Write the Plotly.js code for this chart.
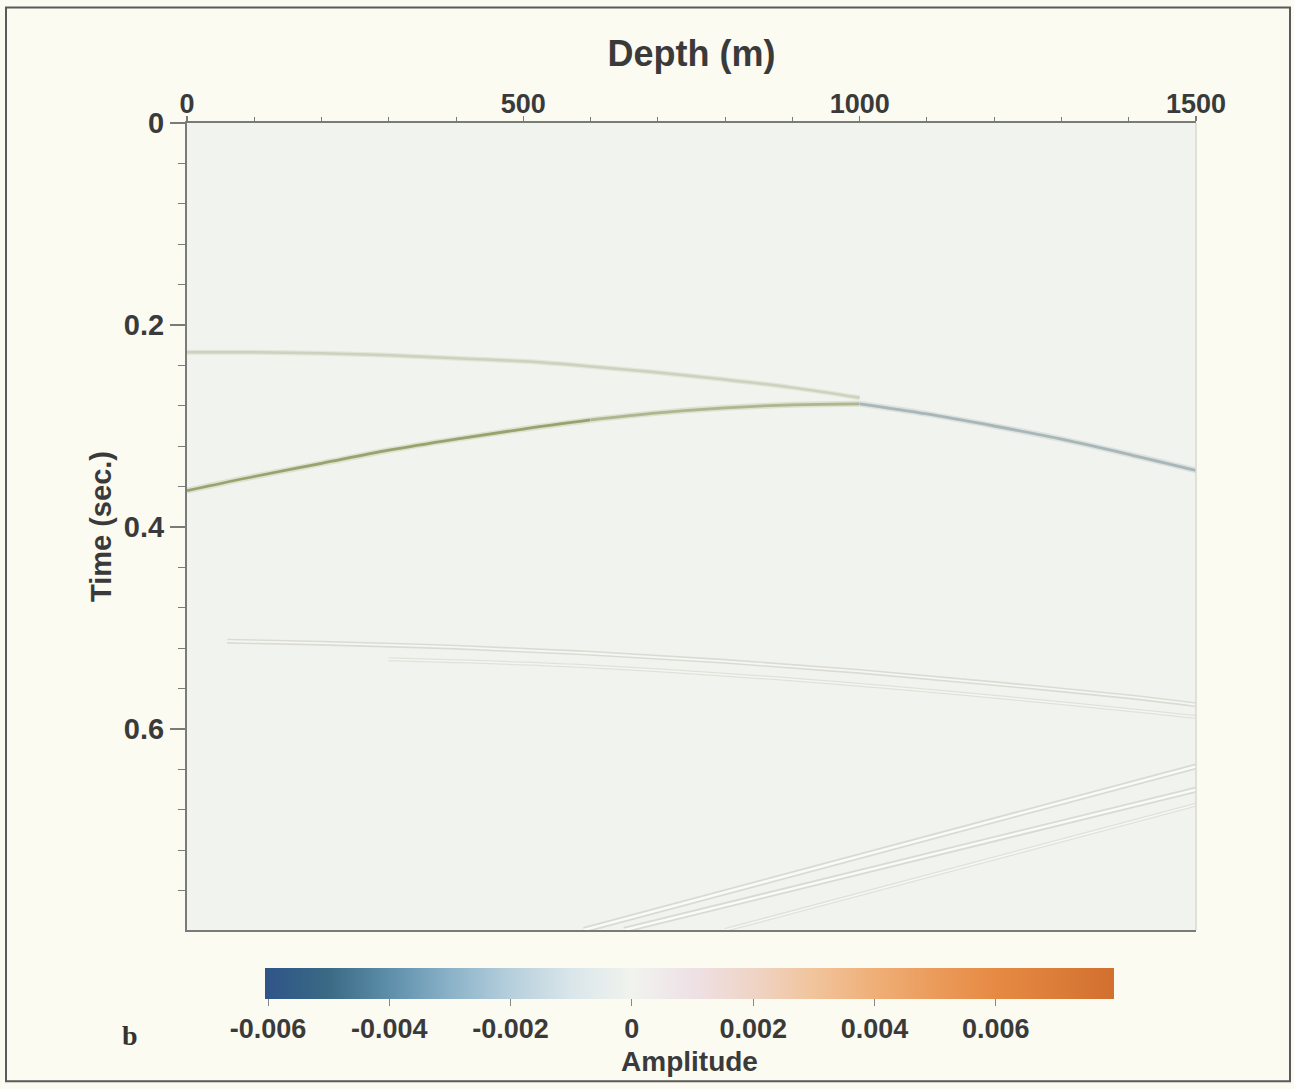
<!DOCTYPE html>
<html>
<head>
<meta charset="utf-8">
<script src="https://cdn.plot.ly/plotly-3.0.1.min.js"></script>
<style>
  html, body { margin: 0; padding: 0; background: #fbfbf1; }
  #chart { width: 1294px; height: 1089px; }
</style>
</head>
<body>
<div id="chart"></div>
<script>
// ---- data ----
const depthTicks = [0, 500, 1000, 1500];
const timeTicks = [0, 0.2, 0.4, 0.6];
const timeTickText = ['0', '0.2', '0.4', '0.6'];
const ampTicks = [-0.006, -0.004, -0.002, 0, 0.002, 0.004, 0.006];
const ampTickText = ['-0.006', '-0.004', '-0.002', '0', '0.002', '0.004', '0.006'];

// background amplitude field (near zero everywhere)
const bgDepth = [0, 1500];
const bgTime = [0, 0.799];
const bgAmp = [[0]];

// reflection events (depth m, time s)
const depthA = [0, 100, 200, 300, 400, 500, 600, 700, 800, 900, 1000];
const timeA  = [0.227, 0.227, 0.228, 0.230, 0.233, 0.236, 0.241, 0.247, 0.254, 0.262, 0.272];

const depthB = [0, 100, 200, 300, 400, 500, 600];
const timeB  = [0.364, 0.350, 0.337, 0.324, 0.313, 0.303, 0.294];
const depthB2 = [600, 700, 800, 900, 1000];
const timeB2  = [0.294, 0.287, 0.282, 0.279, 0.278];

const depthE = [1000, 1100, 1200, 1300, 1400, 1500];
const timeE  = [0.278, 0.288, 0.300, 0.313, 0.328, 0.344];

const depthC1 = [60, 200, 400, 600, 800, 1000, 1200, 1400, 1500];
const timeC1  = [0.513, 0.515, 0.519, 0.525, 0.533, 0.543, 0.555, 0.568, 0.576];
const depthC2 = [300, 600, 900, 1200, 1500];
const timeC2  = [0.531, 0.538, 0.551, 0.568, 0.588];

const depthD1 = [590, 1500];
const timeD1  = [0.799, 0.637];
const depthD2 = [650, 1500];
const timeD2  = [0.799, 0.660];
const depthD3 = [800, 1500];
const timeD3  = [0.799, 0.675];

// ---- styling ----
const FONT = 'Liberation Sans, Arial, sans-serif';
const INK = '#3a3a3a';
const AXIS = '#7a7a78';

const colorscale = [
  [0.000, '#2f5488'],
  [0.075, '#3a6a84'],
  [0.146, '#5d8eaa'],
  [0.218, '#8ab2c8'],
  [0.289, '#b6cfdc'],
  [0.361, '#dae6ea'],
  [0.432, '#f1f3ee'],
  [0.504, '#eee1e6'],
  [0.575, '#efd4c6'],
  [0.646, '#f1c49c'],
  [0.718, '#efaf77'],
  [0.789, '#eb9b5b'],
  [0.861, '#e68a43'],
  [1.000, '#d2702f']
];

function line(x, y, color, width) {
  return {
    type: 'scatter', mode: 'lines', x: x, y: y,
    line: { color: color, width: width, shape: 'spline', smoothing: 1 },
    hoverinfo: 'skip', showlegend: false
  };
}

const traces = [
  {
    type: 'heatmap', x: bgDepth, y: bgTime, z: bgAmp,
    zmin: -0.00605, zmax: 0.00795, colorscale: colorscale,
    hoverinfo: 'skip',
    colorbar: {
      orientation: 'h',
      x: 0.498, xanchor: 'center', xref: 'paper',
      y: -0.047, yanchor: 'top', yref: 'paper',
      len: 0.8414, lenmode: 'fraction',
      thickness: 31, thicknessmode: 'pixels',
      xpad: 0, ypad: 0,
      outlinewidth: 0,
      tickmode: 'array', tickvals: ampTicks, ticktext: ampTickText,
      ticks: 'outside', ticklen: 7, tickcolor: '#888', tickwidth: 1,
      tickfont: { family: FONT, size: 27, color: INK, weight: 'bold' },
      title: { text: 'Amplitude', side: 'bottom',
               font: { family: FONT, size: 28, color: INK, weight: 'bold' } }
    }
  },
  // A event
  line(depthA, timeA, '#e2e5d8', 5),
  line(depthA, timeA, '#ccd2bd', 2.5),
  // C events
  line(depthC1, timeC1, '#dadcd4', 5),
  line(depthC1, timeC1, '#f6f7f3', 1.8),
  line(depthC2, timeC2, '#e0e2da', 4),
  line(depthC2, timeC2, '#f5f6f1', 1.5),
  // D events
  line(depthD1, timeD1, '#d8dbd3', 6),
  line(depthD1, timeD1, '#fafaf7', 2.5),
  line(depthD2, timeD2, '#d8dbd3', 6),
  line(depthD2, timeD2, '#fafaf7', 2.5),
  line(depthD3, timeD3, '#dfe1da', 4),
  line(depthD3, timeD3, '#f7f8f4', 1.5),
  // B event and merged event
  line(depthB, timeB, '#dde1cf', 6),
  line(depthB, timeB, '#97a36f', 2.8),
  line(depthB2, timeB2, '#dde1d0', 6),
  line(depthB2, timeB2, '#adb68f', 2.8),
  line(depthE, timeE, '#dce2e0', 6),
  line(depthE, timeE, '#a9b6b7', 2.8)
];

const layout = {
  width: 1294, height: 1089,
  paper_bgcolor: '#fbfbf1',
  plot_bgcolor: '#f0f2ec',
  margin: { l: 187, r: 98, t: 123, b: 155, pad: 0 },
  font: { family: FONT, color: INK },
  xaxis: {
    side: 'top', range: [0, 1500],
    tickmode: 'array', tickvals: depthTicks,
    ticks: 'outside', ticklen: 5, tickwidth: 1.5, tickcolor: AXIS,
    ticklabelstandoff: -8,
    minor: { dtick: 100, ticks: 'outside', ticklen: 4, tickwidth: 1, tickcolor: AXIS },
    showline: true, linecolor: AXIS, linewidth: 2, mirror: true,
    showgrid: false, zeroline: false,
    tickfont: { family: FONT, size: 27, color: INK, weight: 'bold' },
    title: { text: 'Depth (m)', standoff: 12,
             font: { family: FONT, size: 36, color: INK, weight: 'bold' } }
  },
  yaxis: {
    range: [0.799, 0],
    tickmode: 'array', tickvals: timeTicks, ticktext: timeTickText,
    ticks: 'outside', ticklen: 15, tickwidth: 1.5, tickcolor: AXIS,
    minor: { dtick: 0.04, ticks: 'outside', ticklen: 7, tickwidth: 1, tickcolor: AXIS },
    showline: true, linecolor: AXIS, linewidth: 2, mirror: false,
    showgrid: false, zeroline: false,
    tickfont: { family: FONT, size: 29, color: INK, weight: 'bold' },
    title: { text: 'Time (sec.)', standoff: 4,
             font: { family: FONT, size: 29, color: INK, weight: 'bold' } }
  },
  shapes: [
    { type: 'line', xref: 'paper', yref: 'paper', x0: 1, x1: 1, y0: 0, y1: 1,
      line: { color: '#d8d9d2', width: 1.5 } },
    { type: 'rect', xref: 'paper', yref: 'paper',
      x0: (6 - 187) / 1009, x1: (1290 - 187) / 1009,
      y0: (934 - 1086) / 811, y1: (934 - 7) / 811,
      line: { color: '#5a5a5a', width: 2 }, layer: 'below' }
  ],
  annotations: [
    { text: 'b', xref: 'paper', yref: 'paper',
      x: (130 - 187) / 1009, y: (934 - 1040) / 811,
      xanchor: 'center', yanchor: 'middle', showarrow: false,
      font: { family: 'Liberation Serif, serif', size: 28, color: '#333', weight: 'bold' } }
  ]
};

Plotly.newPlot('chart', traces, layout, { displayModeBar: false, staticPlot: true });
</script>
</body>
</html>
